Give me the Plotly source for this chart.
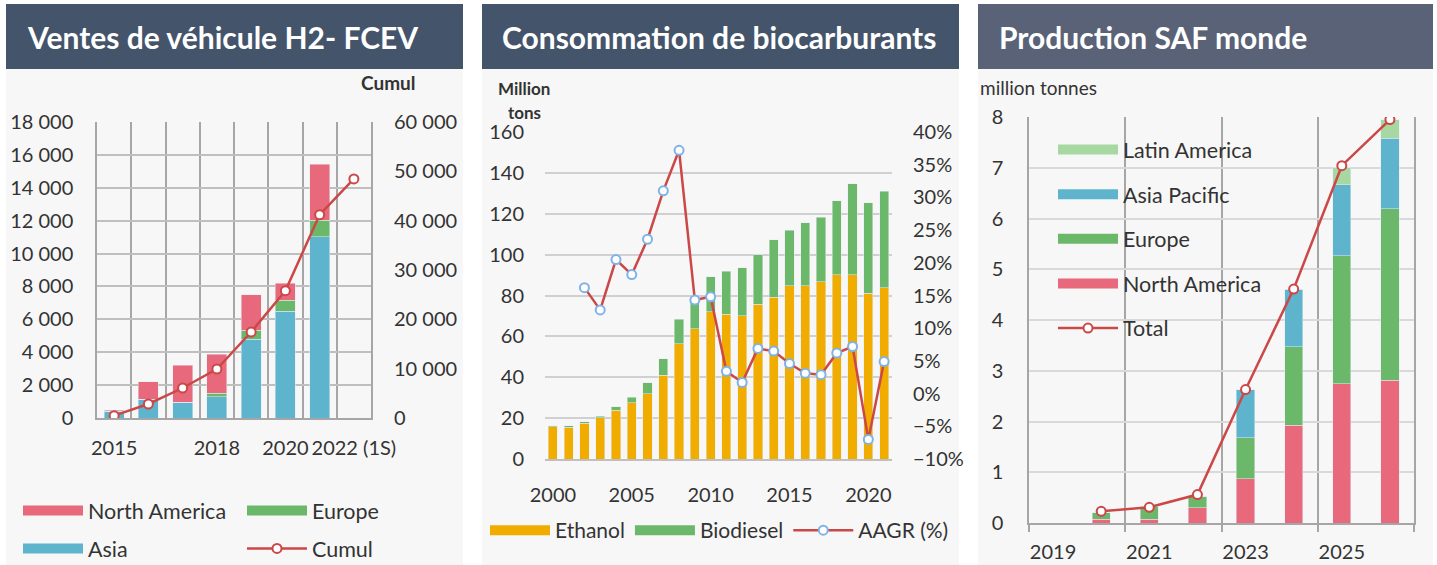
import plotly.graph_objects as go

W, H = 1437, 565


def px(x):
    return x / W


def py(y):
    return 1 - y / H


# ---------------- Data ----------------
# Panel 1 : Ventes de véhicule H2 - FCEV
fcev_years = ["2015", "2016", "2017", "2018", "2019", "2020", "2021", "2022 (1S)"]
fcev_shown_labels = ["2015", "2018", "2020", "2022 (1S)"]
fcev_asia = [400, 1150, 950, 1280, 4800, 6490, 11010, None]
fcev_europe = [0, 0, 0, 240, 530, 670, 1010, None]
fcev_north_america = [70, 1040, 2270, 2350, 2170, 1030, 3410, None]
fcev_cumul = [470, 2840, 6080, 9930, 17430, 25800, 41200, 48450]

# Panel 2 : Consommation de biocarburants
bio_years = list(range(2000, 2022))
bio_shown_labels = [2000, 2005, 2010, 2015, 2020]
ethanol = [15.8, 15.6, 17.6, 20.2, 23.8, 27.5, 31.9, 40.9, 56.5, 63.7, 72.0,
           70.9, 70.1, 75.6, 79.2, 84.7, 84.7, 86.7, 90.1, 90.1, 81.0, 83.7]
biodiesel = [0.5, 0.7, 0.6, 0.8, 1.8, 2.6, 5.4, 8.1, 11.8, 14.3, 17.1,
             21.0, 23.6, 24.4, 28.2, 27.2, 31.0, 31.6, 36.3, 44.6, 44.5, 47.3]
aagr_pct = [None, None, 16.2, 12.8, 20.5, 18.2, 23.6, 31.0, 37.2, 14.3, 14.8,
            3.4, 1.7, 6.9, 6.5, 4.6, 3.1, 2.9, 6.2, 7.2, -7.0, 4.9]

# Panel 3 : Production SAF monde
saf_years = ["2019", "2020", "2021", "2022", "2023", "2024", "2025", "2026"]
saf_shown_labels = ["2019", "2021", "2023", "2025"]
saf_north_america = [None, 0.07, 0.07, 0.30, 0.87, 1.93, 2.74, 2.81]
saf_europe = [None, 0.13, 0.25, 0.23, 0.81, 1.54, 2.53, 3.38]
saf_asia_pacific = [None, 0, 0, 0, 0.95, 1.14, 1.40, 1.39]
saf_latin_america = [None, 0, 0, 0, 0, 0, 0.33, 0.37]
saf_total = [None, 0.23, 0.31, 0.56, 2.63, 4.61, 7.04, 7.95]

# ---------------- Styles ----------------
PINK = "#E8697B"
GREEN = "#6CB86A"
BLUE = "#5EB4CD"
ORANGE = "#F0AD00"
LGREEN = "#A8D8A2"
RED = "#CC4747"
MBLUE = "#7FB3E6"
TXT = "#333333"
DGRID = "#A6A6A6"
FONT = "Lato"
FS = 20
LFS = 21.5

fig = go.Figure()


def bar(x, y, name, color, xa, ya, leg, group, rank, width):
    fig.add_trace(go.Bar(x=x, y=y, name=name, marker_color=color, xaxis=xa, yaxis=ya,
                         legend=leg, legendgroup=group, showlegend=False, width=width))
    # legend entry drawn as a wide swatch
    fig.add_trace(go.Scatter(x=[None], y=[None], name=name, mode="lines",
                             line=dict(color=color, width=12), xaxis=xa, yaxis=ya,
                             legend=leg, legendgroup=group, legendrank=rank,
                             hoverinfo="skip"))


def line(x, y, name, lcolor, mcolor, xa, ya, leg, group, rank):
    fig.add_trace(go.Scatter(x=x, y=y, name=name, mode="lines+markers",
                             line=dict(color=lcolor, width=2.5),
                             marker=dict(symbol="circle", size=9, color="white",
                                         line=dict(color=mcolor, width=2)),
                             xaxis=xa, yaxis=ya, legend=leg, legendgroup=group,
                             legendrank=rank))


# ---------------- Panel 1 ----------------
x1 = list(range(len(fcev_years)))
bar(x1, fcev_asia, "Asia", BLUE, "x", "y", "legend", "a", 3, 0.58)
bar(x1, fcev_europe, "Europe", GREEN, "x", "y", "legend2", "b", 1, 0.58)
bar(x1, fcev_north_america, "North America", PINK, "x", "y", "legend", "c", 1, 0.58)
line(x1, fcev_cumul, "Cumul", RED, RED, "x", "y2", "legend2", "d", 2)

# ---------------- Panel 2 ----------------
x2 = list(range(len(bio_years)))
bar(x2, ethanol, "Ethanol", ORANGE, "x2", "y3", "legend3", "e", 1, 0.58)
bar(x2, biodiesel, "Biodiesel", GREEN, "x2", "y3", "legend3", "f", 2, 0.58)
line(x2, [None if v is None else v / 100 for v in aagr_pct], "AAGR (%)", RED, MBLUE,
     "x2", "y4", "legend3", "g", 3)

# ---------------- Panel 3 ----------------
x3 = list(range(len(saf_years)))
bar(x3, saf_north_america, "North America", PINK, "x3", "y5", "legend4", "p", 4, 0.38)
bar(x3, saf_europe, "Europe", GREEN, "x3", "y5", "legend4", "q", 3, 0.38)
bar(x3, saf_asia_pacific, "Asia Pacific", BLUE, "x3", "y5", "legend4", "r", 2, 0.38)
bar(x3, saf_latin_america, "Latin America", LGREEN, "x3", "y5", "legend4", "s", 1, 0.38)
line(x3, saf_total, "Total", RED, RED, "x3", "y5", "legend4", "t", 5)

tickfont = dict(family=FONT, size=FS, color=TXT)

# ---------------- Background shapes ----------------
shapes = []
panels = [(6, 463, "#44546A"), (482, 959, "#44546A"), (978, 1433, "#596277")]
for x0, x1_, hc in panels:
    shapes.append(dict(type="rect", xref="paper", yref="paper", layer="below",
                       x0=px(x0), x1=px(x1_), y0=0, y1=py(69),
                       fillcolor="#F7F7F7", line=dict(width=0)))
    shapes.append(dict(type="rect", xref="paper", yref="paper", layer="below",
                       x0=px(x0), x1=px(x1_), y0=py(69), y1=py(4),
                       fillcolor=hc, line=dict(width=0)))

annotations = [
    dict(text="<b>Ventes de véhicule H2- FCEV</b>", x=px(25), y=py(37), xref="paper", yref="paper",
         xanchor="left", yanchor="middle", showarrow=False,
         font=dict(family=FONT, size=30, color="white")),
    dict(text="<b>Consommation de biocarburants</b>", x=px(500), y=py(37), xref="paper", yref="paper",
         xanchor="left", yanchor="middle", showarrow=False,
         font=dict(family=FONT, size=30, color="white")),
    dict(text="<b>Production SAF monde</b>", x=px(997), y=py(37), xref="paper", yref="paper",
         xanchor="left", yanchor="middle", showarrow=False,
         font=dict(family=FONT, size=30, color="white")),
    dict(text="<b>Cumul</b>", x=px(388), y=py(83), xref="paper", yref="paper",
         xanchor="center", yanchor="middle", showarrow=False,
         font=dict(family=FONT, size=19, color=TXT)),
    dict(text="<b>Million</b>", x=px(524), y=py(88), xref="paper", yref="paper",
         xanchor="center", yanchor="middle", showarrow=False,
         font=dict(family=FONT, size=17, color=TXT)),
    dict(text="<b>tons</b>", x=px(524), y=py(112), xref="paper", yref="paper",
         xanchor="center", yanchor="middle", showarrow=False,
         font=dict(family=FONT, size=17, color=TXT)),
    dict(text="million tonnes", x=px(978), y=py(87), xref="paper", yref="paper",
         xanchor="left", yanchor="middle", showarrow=False,
         font=dict(family=FONT, size=19, color=TXT)),
]

legfont = dict(family=FONT, size=LFS, color=TXT)

fig.update_layout(
    width=W, height=H, margin=dict(l=0, r=0, t=0, b=0, autoexpand=False),
    paper_bgcolor="white", plot_bgcolor="rgba(0,0,0,0)",
    separators=", ", barmode="stack", bargap=0.4,
    showlegend=True,
    shapes=shapes, annotations=annotations,
    # Panel 1
    xaxis=dict(domain=[px(97), px(371)], range=[-0.5, len(fcev_years) - 0.5],
               tickmode="array", tickvals=[fcev_years.index(s) for s in fcev_shown_labels],
               ticktext=fcev_shown_labels, showgrid=False, zeroline=False,
               showline=True, linecolor=DGRID, linewidth=1.5,
               ticks="", ticklabelstandoff=11, tickfont=tickfont, tickangle=0,
               automargin=False,
               minor=dict(tickmode="array",
                          tickvals=[i - 0.5 for i in range(len(fcev_years) + 1)],
                          showgrid=True, gridcolor=DGRID, gridwidth=1.5, ticks=""),
               fixedrange=True),
    yaxis=dict(domain=[py(418), py(122)], range=[0, 18000], dtick=2000,
               tickformat=",d", showgrid=True, gridcolor="#BFBFBF", gridwidth=1.5,
               showline=True, mirror=True, linecolor=DGRID, linewidth=1.5,
               zeroline=False, ticklabelstandoff=18, tickfont=tickfont, anchor="x",
               automargin=False),
    yaxis2=dict(overlaying="y", side="right", range=[0, 60000], dtick=10000,
                tickformat=",d", showgrid=False, zeroline=False, anchor="x",
                ticklabelstandoff=22, tickfont=tickfont, automargin=False),
    # Panel 2
    xaxis2=dict(domain=[px(545), px(892)], range=[-0.5, len(bio_years) - 0.5],
                tickmode="array", tickvals=[bio_years.index(v) for v in bio_shown_labels],
                ticktext=[str(v) for v in bio_shown_labels], showgrid=False, zeroline=False,
                showline=True, linecolor="#BFBFBF", linewidth=1.5, ticks="", tickangle=0,
                ticklabelstandoff=17, tickfont=tickfont, anchor="y3", automargin=False),
    yaxis3=dict(domain=[py(459), py(132)], range=[0, 160], dtick=20,
                showgrid=True, gridcolor="#D0D0D0", gridwidth=1.5, zeroline=False,
                ticklabelstandoff=20, tickfont=tickfont, anchor="x2", automargin=False),
    yaxis4=dict(overlaying="y3", side="right", range=[-0.10, 0.40], dtick=0.05,
                tickformat=".0%", showgrid=False, zeroline=False, anchor="x2",
                ticklabelstandoff=20, tickfont=tickfont, automargin=False),
    # Panel 3
    xaxis3=dict(domain=[px(1029), px(1414)], range=[-0.5, len(saf_years) - 0.5],
                tickmode="array", tickvals=[saf_years.index(s) for s in saf_shown_labels],
                ticktext=saf_shown_labels, showgrid=False, zeroline=False,
                showline=True, linecolor=DGRID, linewidth=1.5, ticks="", tickangle=0,
                ticklabelstandoff=10, tickfont=tickfont, anchor="y5", automargin=False,
                minor=dict(tickmode="array",
                           tickvals=[i - 0.5 for i in range(0, len(saf_years) + 1, 2)],
                           showgrid=True, gridcolor=DGRID, gridwidth=1.5,
                           ticks="outside", ticklen=7, tickcolor=DGRID, tickwidth=1.5)),
    yaxis5=dict(domain=[py(523), py(117)], range=[0, 8], dtick=1,
                showgrid=True, gridcolor="#D9D9D9", gridwidth=1.5, zeroline=False,
                showline=True, mirror=True, linecolor=DGRID, linewidth=1.5,
                ticklabelstandoff=20, tickfont=tickfont, anchor="x3", automargin=False),
    # Legends
    legend=dict(x=px(18), y=py(490), xanchor="left", yanchor="top", orientation="v",
                bgcolor="rgba(0,0,0,0)", font=legfont, tracegroupgap=7, itemwidth=60),
    legend2=dict(x=px(242), y=py(490), xanchor="left", yanchor="top", orientation="v",
                 bgcolor="rgba(0,0,0,0)", font=legfont, tracegroupgap=7, itemwidth=60),
    legend3=dict(x=px(485), y=py(510), xanchor="left", yanchor="top", orientation="h",
                 bgcolor="rgba(0,0,0,0)", font=dict(family=FONT, size=21, color=TXT),
                 itemwidth=60, traceorder="normal"),
    legend4=dict(x=px(1053), y=py(129), xanchor="left", yanchor="top", orientation="v",
                 bgcolor="rgba(0,0,0,0)", font=legfont, tracegroupgap=13.7, itemwidth=60),
)

fig.write_html("out.html", config={"displayModeBar": False},
               post_script="document.body.style.margin='0px';")
